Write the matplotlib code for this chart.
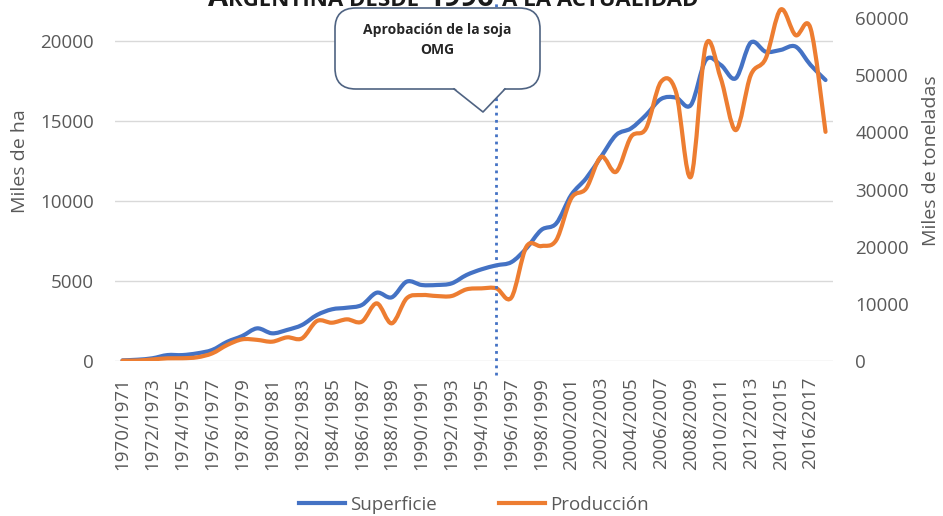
import numpy as np
import matplotlib
matplotlib.use("Agg")
import matplotlib.pyplot as plt
from matplotlib.path import Path
from matplotlib.patches import PathPatch, FancyBboxPatch, Polygon
from matplotlib.lines import Line2D

# ---------------- data ----------------
categories = [
    "1970/1971", "1971/1972", "1972/1973", "1973/1974", "1974/1975", "1975/1976",
    "1976/1977", "1977/1978", "1978/1979", "1979/1980", "1980/1981", "1981/1982",
    "1982/1983", "1983/1984", "1984/1985", "1985/1986", "1986/1987", "1987/1988",
    "1988/1989", "1989/1990", "1990/1991", "1991/1992", "1992/1993", "1993/1994",
    "1994/1995", "1995/1996", "1996/1997", "1997/1998", "1998/1999", "1999/2000",
    "2000/2001", "2001/2002", "2002/2003", "2003/2004", "2004/2005", "2005/2006",
    "2006/2007", "2007/2008", "2008/2009", "2009/2010", "2010/2011", "2011/2012",
    "2012/2013", "2013/2014", "2014/2015", "2015/2016", "2016/2017", "2017/2018",
]
superficie = [40, 80, 170, 370, 370, 480, 690, 1200, 1560, 2040, 1730, 1940,
              2250, 2875, 3230, 3330, 3500, 4270, 3980, 4960, 4750, 4750, 4850, 5375,
              5730, 5980, 6180, 7040, 8190, 8600, 10375, 11420, 12770, 14125, 14540, 15375,
              16375, 16460, 16000, 18810, 18500, 17670, 19900, 19330, 19440, 19650, 18500, 17560]
produccion = [60, 80, 270, 470, 480, 650, 1340, 2800, 3790, 3700, 3380, 4140,
              3960, 7000, 6700, 7290, 6880, 10090, 6590, 10970, 11540, 11370, 11370, 12540,
              12710, 12710, 11100, 19990, 20110, 21160, 28460, 30200, 35730, 33110, 39230, 40700,
              48850, 47100, 32230, 55270, 49440, 40400, 50020, 52940, 61510, 57020, 58190, 40100]
left_ticks = [0, 5000, 10000, 15000, 20000]
right_ticks = [0, 10000, 20000, 30000, 40000, 50000, 60000]
left_max = 25000
right_max = 70000
omg_category = "1995/1996"
series_names = ["Superficie", "Producción"]
title_parts = [("A", "big"), ("RGENTINA DESDE", "small"), ("1996", "big"),
               ("A LA ACTUALIDAD", "small")]
callout_lines = ["Aprobación de la soja", "OMG"]

# ---------------- style ----------------
W, H = 943, 516
BLUE = "#4472C4"
ORANGE = "#ED7D31"
GREY = "#595959"
GRID = "#D9D9D9"
FONT = "Open Sans"
plt.rcParams["font.family"] = [FONT, "DejaVu Sans"]

fig = plt.figure(figsize=(W / 100, H / 100), dpi=100)
fig.patch.set_facecolor("white")

def fx(px):
    return px / W

def fy(py):
    return 1 - py / H

# axes: plot area from x=115..833, y=-39..361 (pixels from top)
ax = fig.add_axes([fx(115), fy(361), fx(833) - fx(115), (361 + 39) / H])
ax2 = ax.twinx()

def smooth_path(xs, ys):
    pts = np.column_stack([xs, ys]).astype(float)
    n = len(pts)
    verts = [pts[0]]
    codes = [Path.MOVETO]
    for i in range(n - 1):
        p0 = pts[i - 1] if i > 0 else pts[i]
        p1 = pts[i]
        p2 = pts[i + 1]
        p3 = pts[i + 2] if i + 2 < n else pts[i + 1]
        verts += [p1 + (p2 - p0) / 6, p2 - (p3 - p1) / 6, p2]
        codes += [Path.CURVE4] * 3
    return Path(verts, codes)

x = np.arange(len(categories))
ax.add_patch(PathPatch(smooth_path(x, superficie), fill=False, ec=BLUE, lw=3.0,
                       joinstyle="round", capstyle="round", zorder=3))
ax2.add_patch(PathPatch(smooth_path(x, produccion), fill=False, ec=ORANGE, lw=3.0,
                        joinstyle="round", capstyle="round", zorder=3))

ax.set_xlim(-0.5, len(categories) - 0.5)
ax.set_ylim(0, left_max)
ax2.set_ylim(0, right_max)

ax.set_yticks(left_ticks)
ax.set_yticklabels([str(v) for v in left_ticks])
ax2.set_yticks(right_ticks)
ax2.set_yticklabels([str(v) for v in right_ticks])
ax.set_xticks(x[::2])
ax.set_xticklabels(categories[::2], rotation=90)

ax.grid(axis="y", color=GRID, lw=1.0)
ax.set_axisbelow(True)
for a in (ax, ax2):
    for s in a.spines.values():
        s.set_visible(False)
    a.set_facecolor("none")

ax.tick_params(axis="y", length=0, pad=15, labelsize=13.5, labelcolor=GREY)
ax.tick_params(axis="x", length=0, pad=11.5, labelsize=13.5, labelcolor=GREY)
ax2.tick_params(axis="y", length=0, pad=16, labelsize=13.5, labelcolor=GREY)

ax.set_ylabel("Miles de ha", fontsize=14, color=GREY, va="center")
ax.yaxis.set_label_coords((20 - 115) / 718, 0.5)
ax2.set_ylabel("Miles de toneladas", fontsize=14, color=GREY, va="center", rotation=90)
ax2.yaxis.set_label_coords((931 - 115) / 718, 0.5)

# dotted vertical line at approval season
xi = categories.index(omg_category)
ax2.axvline(xi, ymin=-0.035, ymax=1.0, color=BLUE, lw=2.0, ls=(0, (1, 1.6)),
            clip_on=False, zorder=6)

# legend
handles = [Line2D([], [], color=BLUE, lw=3.0), Line2D([], [], color=ORANGE, lw=3.0)]
fig.legend(handles, series_names, loc="center", bbox_to_anchor=(fx(474), fy(505)),
           ncol=2, frameon=False, fontsize=13.5, handlelength=2.45, handletextpad=0.3,
           columnspacing=3.3, labelcolor=GREY)

# callout box
box_l, box_r, box_t, box_b = 335, 540, 8, 89
box = FancyBboxPatch((fx(box_l), fy(box_b)), fx(box_r) - fx(box_l), fy(box_t) - fy(box_b),
                     boxstyle="round,pad=0,rounding_size=0.022", transform=fig.transFigure,
                     fc="white", ec="#4F6382", lw=1.2, zorder=20,
                     mutation_aspect=W / H)
fig.patches.append(box)
tri = [(fx(454), fy(box_b - 1.5)), (fx(483), fy(112)), (fx(505), fy(box_b - 1.5))]
fig.patches.append(Polygon(tri, closed=True, fc="white", ec="none",
                           transform=fig.transFigure, zorder=21))
fig.lines.append(Line2D([fx(454), fx(483), fx(505)], [fy(box_b), fy(112), fy(box_b)],
                        color="#4F6382", lw=1.2, transform=fig.transFigure, zorder=22))
fig.text(fx(437), fy(30), callout_lines[0], ha="center", va="center", fontsize=10,
         fontweight="bold", color="#262626", zorder=23)
fig.text(fx(437), fy(50), callout_lines[1], ha="center", va="center", fontsize=10,
         fontweight="bold", color="#262626", zorder=23)

# small-caps title, mostly cut off at the top (as in the source image)
renderer = fig.canvas.get_renderer()
sizes = {"big": 21, "small": 16}
space_px = 8
widths = []
for txt, kind in title_parts:
    t = fig.text(0, 0, txt, fontsize=sizes[kind], fontweight="bold")
    widths.append(t.get_window_extent(renderer).width)
    t.remove()
gaps = [0, 0, space_px, space_px]
total = sum(widths) + sum(gaps)
cur = 453 - total / 2
for (txt, kind), w, g in zip(title_parts, widths, gaps):
    cur += g
    fig.text(fx(cur), fy(6), txt, fontsize=sizes[kind], fontweight="bold",
             color="#1a1a1a", ha="left", va="baseline", zorder=15)
    cur += w

fig.savefig("out.png", dpi=100)
